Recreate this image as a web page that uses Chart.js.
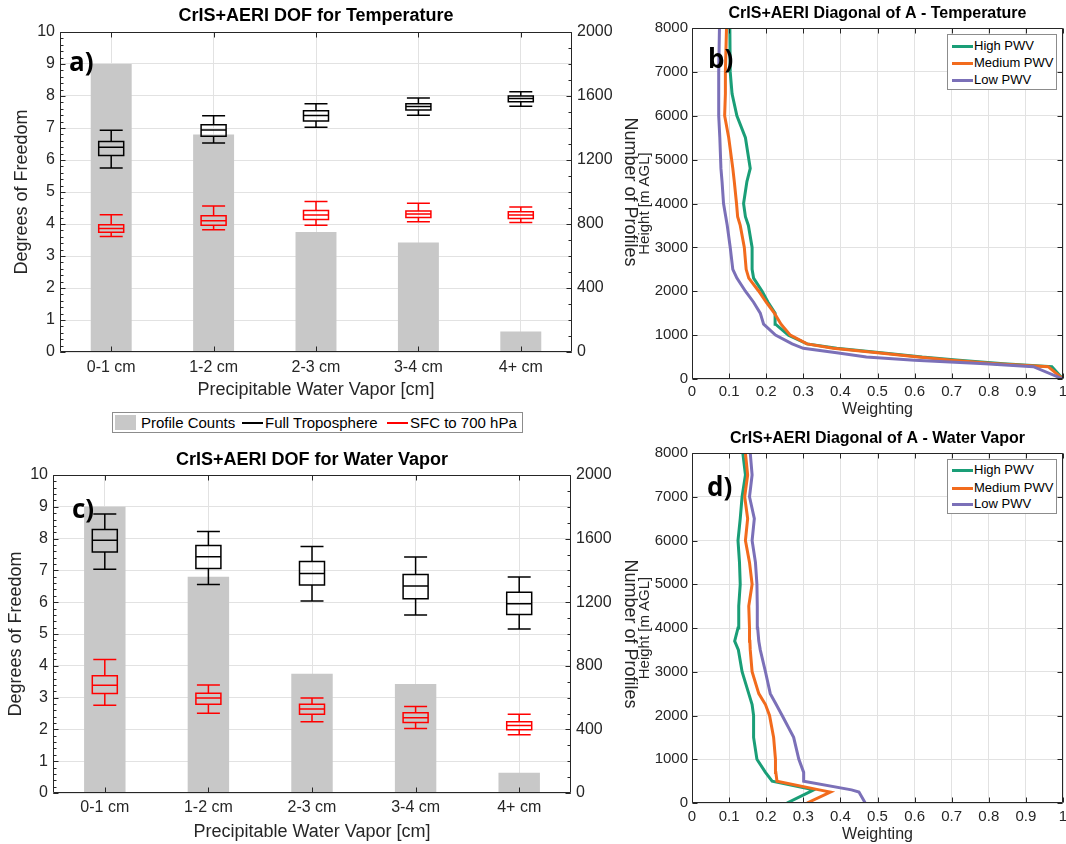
<!DOCTYPE html>
<html>
<head>
<meta charset="utf-8">
<script src="https://cdn.jsdelivr.net/npm/chart.js@4.4.1/dist/chart.umd.min.js"></script>
<style>
  body { margin: 0; background: #fff; width: 1066px; height: 844px; position: relative; overflow: hidden;
         font-family: "Liberation Sans", Arial, sans-serif; }
  canvas { position: absolute; }
  .tag { position: absolute; font-family: "Open Sans", sans-serif; font-weight: 700; font-size: 26px; line-height: 26px; color: #000; z-index: 4; }
  .legend { position: absolute; background: #fff; border: 1px solid #8c8c8c; z-index: 5; color: #000; }
  .legend span { position: absolute; white-space: nowrap; }
</style>
</head>
<body>
<canvas id="chartA" width="660" height="402" style="left:0;top:0"></canvas>
<canvas id="chartC" width="660" height="414" style="left:0;top:430px"></canvas>
<canvas id="chartB" width="430" height="420" style="left:636px;top:0"></canvas>
<canvas id="chartD" width="430" height="420" style="left:636px;top:425px"></canvas>

<div class="tag" style="left:69px;top:48px">a)</div>
<div class="tag" style="left:72px;top:495px">c)</div>
<div class="tag" style="left:708px;top:45px">b)</div>
<div class="tag" style="left:707px;top:473px">d)</div>

<!-- legend shared by the two DOF panels -->
<div class="legend" style="left:112px;top:412px;width:409px;height:19px;font-size:15px">
  <span style="left:2px;top:2px;width:21px;height:15px;background:#c8c8c8"></span>
  <span style="left:28px;top:1px">Profile Counts</span>
  <span style="left:129px;top:9px;width:21px;height:2px;background:#000"></span>
  <span style="left:152px;top:1px">Full Troposphere</span>
  <span style="left:274px;top:9px;width:21px;height:2px;background:#ff0000"></span>
  <span style="left:297px;top:1px">SFC to 700 hPa</span>
</div>

<div class="legend" style="left:947px;top:34px;width:108px;height:54px;font-size:13px">
  <span style="left:4px;top:10px;width:21px;height:3px;background:#1a9e77"></span>
  <span style="left:26px;top:3px">High PWV</span>
  <span style="left:4px;top:27px;width:21px;height:3px;background:#f26b1d"></span>
  <span style="left:26px;top:20px">Medium PWV</span>
  <span style="left:4px;top:44px;width:21px;height:3px;background:#7b70b8"></span>
  <span style="left:26px;top:37px">Low PWV</span>
</div>
<div class="legend" style="left:947px;top:459px;width:108px;height:53px;font-size:13px">
  <span style="left:4px;top:9px;width:21px;height:3px;background:#1a9e77"></span>
  <span style="left:26px;top:2px">High PWV</span>
  <span style="left:4px;top:27px;width:21px;height:3px;background:#f26b1d"></span>
  <span style="left:26px;top:20px">Medium PWV</span>
  <span style="left:4px;top:43px;width:21px;height:3px;background:#7b70b8"></span>
  <span style="left:26px;top:36px">Low PWV</span>
</div>

<script>
// ---- data ----
const pwvBins = ['0-1 cm', '1-2 cm', '2-3 cm', '3-4 cm', '4+ cm'];
const profileCounts = [1800, 1360, 750, 685, 128];

// box stats per bin: [lower whisker, q1, median, q3, upper whisker]
const tempFullTrop = [[5.75, 6.14, 6.40, 6.58, 6.93], [6.53, 6.74, 6.94, 7.10, 7.38], [7.02, 7.22, 7.39, 7.54, 7.76],
                      [7.40, 7.56, 7.67, 7.76, 7.94], [7.68, 7.82, 7.92, 8.00, 8.13]];
const tempSfc700 = [[3.61, 3.74, 3.86, 3.98, 4.29], [3.82, 3.96, 4.10, 4.26, 4.56], [3.96, 4.14, 4.28, 4.42, 4.70],
                    [4.07, 4.20, 4.31, 4.41, 4.65], [4.05, 4.17, 4.28, 4.38, 4.53]];
const wvFullTrop = [[7.04, 7.58, 7.95, 8.29, 8.77], [6.56, 7.06, 7.43, 7.78, 8.22], [6.04, 6.54, 6.90, 7.28, 7.75],
                    [5.60, 6.11, 6.51, 6.87, 7.42], [5.16, 5.61, 5.95, 6.31, 6.79]];
const wvSfc700 = [[2.76, 3.13, 3.39, 3.69, 4.20], [2.51, 2.79, 2.99, 3.14, 3.40], [2.24, 2.48, 2.64, 2.79, 2.99],
                  [2.03, 2.22, 2.37, 2.52, 2.72], [1.83, 1.99, 2.12, 2.24, 2.48]];

// diagonal of A, temperature (height in m AGL)
const heightsT = [0, 280, 350, 430, 500, 600, 700, 800, 1000, 1250, 1500, 1750, 2000, 2300, 2500, 3000, 3500, 3700, 4000, 4500, 4800, 5500, 6000, 6500, 7000, 8000];
const tempHigh = [1.0, 0.97, 0.84, 0.72, 0.62, 0.51, 0.39, 0.31, 0.26, 0.225, 0.224, 0.205, 0.189, 0.166, 0.162, 0.162, 0.152, 0.144, 0.139, 0.148, 0.157, 0.144, 0.121, 0.108, 0.103, 0.102];
const tempMed  = [1.0, 0.96, 0.82, 0.70, 0.61, 0.50, 0.38, 0.31, 0.265, 0.24, 0.222, 0.2, 0.18, 0.153, 0.146, 0.141, 0.13, 0.123, 0.12, 0.114, 0.11, 0.099, 0.088, 0.09, 0.09, 0.093];
const tempLow  = [1.0, 0.92, 0.79, 0.6, 0.47, 0.39, 0.3, 0.27, 0.225, 0.193, 0.184, 0.166, 0.144, 0.121, 0.11, 0.103, 0.095, 0.091, 0.085, 0.081, 0.078, 0.075, 0.072, 0.072, 0.072, 0.074];

// diagonal of A, water vapor
const heightsW = [0, 250, 300, 500, 700, 1000, 1500, 2000, 2250, 2500, 3000, 3500, 3700, 4000, 4500, 5000, 5500, 6000, 6500, 7000, 7500, 8000];
const wvHigh = [0.256, 0.316, 0.328, 0.216, 0.198, 0.175, 0.166, 0.166, 0.162, 0.153, 0.135, 0.125, 0.115, 0.124, 0.126, 0.13, 0.128, 0.124, 0.13, 0.135, 0.144, 0.137];
const wvMed  = [0.31, 0.373, 0.343, 0.229, 0.226, 0.225, 0.22, 0.209, 0.198, 0.18, 0.162, 0.157, 0.156, 0.155, 0.153, 0.162, 0.155, 0.144, 0.15, 0.142, 0.15, 0.144];
const wvLow  = [0.467, 0.45, 0.43, 0.301, 0.301, 0.288, 0.274, 0.243, 0.227, 0.211, 0.198, 0.184, 0.18, 0.177, 0.176, 0.175, 0.171, 0.162, 0.168, 0.155, 0.162, 0.157];

Chart.defaults.font.family = '"Liberation Sans", Arial, sans-serif';
Chart.defaults.color = '#262626';

const gridColor = '#e2e2e2';

// draws the box plots with the chart's own x / y scales
const boxPlugin = {
  id: 'boxes',
  afterDatasetsDraw(chart, args, opts) {
    const ctx = chart.ctx, xs = chart.scales.x, ys = chart.scales.y;
    ctx.save();
    opts.groups.forEach(g => {
      ctx.strokeStyle = g.color;
      ctx.lineWidth = 1.5;
      g.stats.forEach((s, i) => {
        const cx = xs.getPixelForValue(i);
        const [lo, q1, med, q3, hi] = s.map(v => ys.getPixelForValue(v));
        ctx.beginPath();
        ctx.moveTo(cx, q3); ctx.lineTo(cx, hi);
        ctx.moveTo(cx, q1); ctx.lineTo(cx, lo);
        ctx.moveTo(cx - 11.5, hi); ctx.lineTo(cx + 11.5, hi);
        ctx.moveTo(cx - 11.5, lo); ctx.lineTo(cx + 11.5, lo);
        ctx.moveTo(cx - 12.5, med); ctx.lineTo(cx + 12.5, med);
        ctx.rect(cx - 12.5, q3, 25, q1 - q3);
        ctx.stroke();
      });
    });
    ctx.restore();
  }
};

// matlab-like box around the axes with inward ticks; title centred over the plot area
const framePlugin = {
  id: 'frame',
  afterLayout(chart) {
    const t = chart.titleBlock;
    if (t) { t.left = chart.chartArea.left; t.right = chart.chartArea.right; }
  },
  afterDraw(chart, args, opts) {
    const {ctx, chartArea: a, scales} = chart;
    const L = Math.round(a.left) + 0.5, R = Math.round(a.right) - 0.5;
    const T = Math.round(a.top) + 0.5, B = Math.round(a.bottom) - 0.5;
    ctx.save();
    ctx.strokeStyle = '#262626';
    ctx.lineWidth = 1;
    ctx.beginPath();
    ctx.rect(L, T, R - L, B - T);
    const xs = scales.x, ys = scales.y, y2 = scales.y2;
    xs.ticks.forEach((t, i) => {
      const px = Math.round(xs.getPixelForTick(i)) + 0.5;
      ctx.moveTo(px, B); ctx.lineTo(px, B - 5);
      ctx.moveTo(px, T); ctx.lineTo(px, T + 5);
    });
    ys.ticks.forEach((t, i) => {
      const py = Math.round(ys.getPixelForTick(i)) + 0.5;
      ctx.moveTo(L, py); ctx.lineTo(L + 5, py);
      if (!y2) { ctx.moveTo(R, py); ctx.lineTo(R - 5, py); }
    });
    const minor = (sc, step, x0, dir) => {
      const n = Math.round((sc.max - sc.min) / step);
      for (let k = 0; k <= n; k++) {
        const py = Math.round(sc.getPixelForValue(sc.min + k * step)) + 0.5;
        ctx.moveTo(x0, py); ctx.lineTo(x0 + dir * 3, py);
      }
    };
    if (opts.yMinor) minor(ys, opts.yMinor, L, 1);
    if (y2) {
      y2.ticks.forEach((t, i) => {
        const py = Math.round(y2.getPixelForTick(i)) + 0.5;
        ctx.moveTo(R, py); ctx.lineTo(R - 5, py);
      });
      if (opts.y2Minor) minor(y2, opts.y2Minor, R, -1);
    }
    ctx.stroke();
    ctx.restore();
  }
};

function fixWidth(w) {
  return s => { s.width = w; s.paddingTop = 0; s.paddingBottom = 0; };
}
function fixHeight(h) {
  return s => { s.height = h; s.paddingLeft = 0; s.paddingRight = 0; };
}

function makeDofChart(id, title, fullTrop, sfc700, lay) {
  return new Chart(document.getElementById(id), {
    type: 'bar',
    data: {
      labels: pwvBins,
      datasets: [{
        label: 'Profile Counts',
        data: profileCounts,
        yAxisID: 'y2',
        backgroundColor: '#c8c8c8',
        barPercentage: 0.4,
        categoryPercentage: 1
      }]
    },
    options: {
      responsive: false,
      animation: false,
      layout: { padding: { left: 0, right: lay.padRight, top: 0, bottom: 0 } },
      plugins: {
        legend: { display: false },
        tooltip: { enabled: false },
        title: {
          display: true, text: title, color: '#000',
          font: { size: 18, weight: 'bold' },
          padding: { top: lay.titlePad[0], bottom: lay.titlePad[1] }
        },
        boxes: { groups: [{ stats: fullTrop, color: '#000000' }, { stats: sfc700, color: '#ff0000' }] },
        frame: { yMinor: 0.2, y2Minor: 100 }
      },
      scales: {
        x: {
          type: 'category', offset: true,
          grid: { offset: false, color: gridColor, drawTicks: false },
          border: { display: false },
          ticks: { font: { size: 16 }, padding: lay.xTickPad, maxRotation: 0 },
          title: { display: true, text: 'Precipitable Water Vapor [cm]', color: '#262626', font: { size: 18 }, padding: { top: 0, bottom: lay.xTitlePad } },
          afterFit: fixHeight(lay.xHeight)
        },
        y: {
          position: 'left', min: 0, max: 10,
          grid: { color: gridColor, drawTicks: false },
          border: { display: false },
          ticks: { stepSize: 1, font: { size: 16 }, padding: 5 },
          title: { display: true, text: 'Degrees of Freedom', color: '#262626', font: { size: 18 }, padding: { top: lay.yTitlePad, bottom: 0 } },
          afterFit: fixWidth(lay.yWidth)
        },
        y2: {
          position: 'right', min: 0, max: 2000,
          grid: { display: false, drawTicks: false },
          border: { display: false },
          ticks: { stepSize: 400, font: { size: 16 }, padding: 5, callback: v => String(v) },
          title: { display: true, text: 'Number of Profiles', color: '#262626', font: { size: 18 }, padding: { top: 2, bottom: 0 } },
          afterFit: fixWidth(lay.y2Width)
        }
      }
    },
    plugins: [boxPlugin, framePlugin]
  });
}

function toPoints(values, heights) {
  return heights.map((h, i) => ({ x: values[i], y: h }));
}

function makeProfileChart(id, title, heights, high, med, low, lay) {
  const line = (label, vals, color, order) => ({
    label, data: toPoints(vals, heights), borderColor: color, backgroundColor: color,
    borderWidth: 3, pointRadius: 0, showLine: true, tension: 0, order
  });
  return new Chart(document.getElementById(id), {
    type: 'scatter',
    data: {
      datasets: [
        line('High PWV', high, '#1a9e77', 3),
        line('Medium PWV', med, '#f26b1d', 2),
        line('Low PWV', low, '#7b70b8', 1)
      ]
    },
    options: {
      responsive: false,
      animation: false,
      layout: { padding: { left: 0, right: lay.padRight, top: 0, bottom: 0 } },
      plugins: {
        legend: { display: false },
        tooltip: { enabled: false },
        title: {
          display: true, text: title, color: '#000',
          font: { size: 16, weight: 'bold' },
          padding: { top: lay.titlePad[0], bottom: lay.titlePad[1] }
        },
        frame: {}
      },
      scales: {
        x: {
          type: 'linear', min: 0, max: 1,
          grid: { color: gridColor, drawTicks: false },
          border: { display: false },
          ticks: { stepSize: 0.1, font: { size: 15 }, padding: lay.xTickPad, maxRotation: 0,
                   callback: v => String(Math.round(v * 10) / 10) },
          title: { display: true, text: 'Weighting', color: '#262626', font: { size: 16 }, padding: { top: 0, bottom: lay.xTitlePad } },
          afterFit: fixHeight(lay.xHeight)
        },
        y: {
          type: 'linear', min: 0, max: 8000,
          grid: { color: gridColor, drawTicks: false },
          border: { display: false },
          ticks: { stepSize: 1000, font: { size: 15 }, padding: 4, callback: v => String(v) },
          title: { display: true, text: 'Height [m AGL]', color: '#262626', font: { size: 15 }, padding: { top: 0, bottom: 0 } },
          afterFit: fixWidth(lay.yWidth)
        }
      }
    },
    plugins: [framePlugin]
  });
}

makeDofChart('chartA', 'CrIS+AERI DOF for Temperature', tempFullTrop, tempSfc700,
  { titlePad: [5.2, 5.2], yWidth: 60, yTitlePad: 11.2, y2Width: 71, padRight: 17, xHeight: 50, xTickPad: 6.4, xTitlePad: 1.2 });
makeDofChart('chartC', 'CrIS+AERI DOF for Water Vapor', wvFullTrop, wvSfc700,
  { titlePad: [19.2, 4.2], yWidth: 53, yTitlePad: 5.2, y2Width: 72, padRight: 17, xHeight: 51, xTickPad: 5.4, xTitlePad: 1.2 });

makeProfileChart('chartB', 'CrIS+AERI Diagonal of A - Temperature', heightsT, tempHigh, tempMed, tempLow,
  { titlePad: [4.4, 4.4], yWidth: 56, padRight: 3, xHeight: 41, xTickPad: 4, xTitlePad: 0.4 });
makeProfileChart('chartD', 'CrIS+AERI Diagonal of A - Water Vapor', heightsW, wvHigh, wvMed, wvLow,
  { titlePad: [4.4, 4.4], yWidth: 56, padRight: 3, xHeight: 42, xTickPad: 5, xTitlePad: 0.4 });
</script>
</body>
</html>
